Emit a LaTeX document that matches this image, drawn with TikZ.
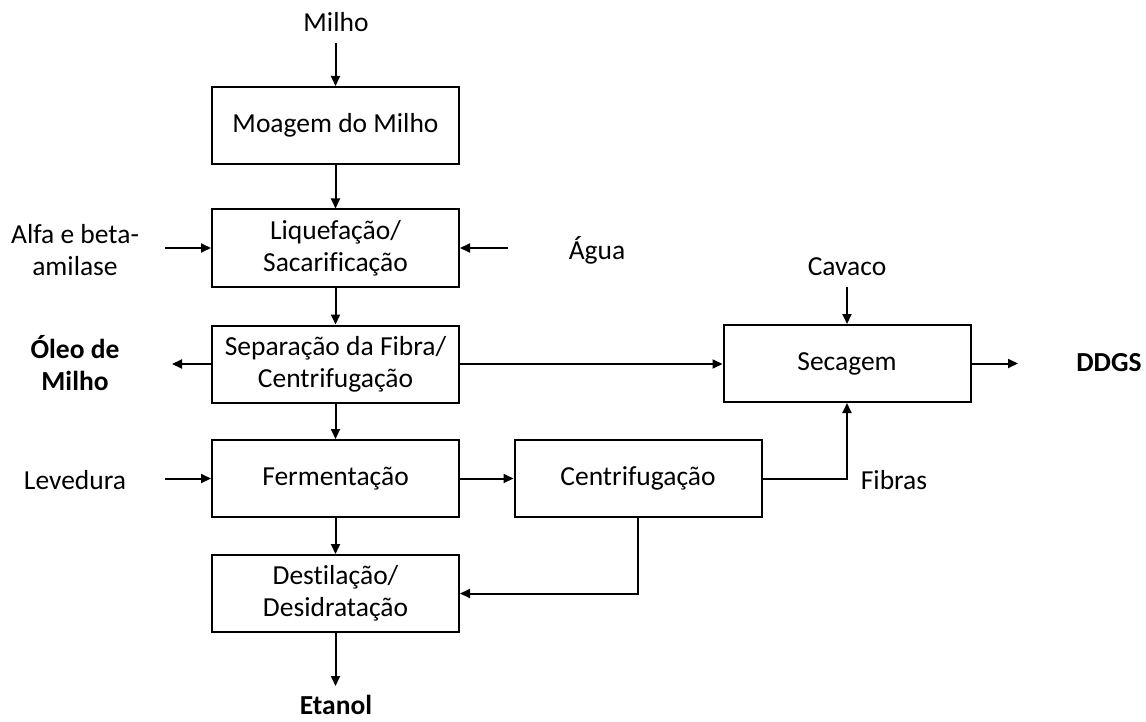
\documentclass[tikz,border=0pt]{standalone}
\usepackage{fontspec}
\setmainfont[Ligatures={NoCommon}]{Carlito}
\usetikzlibrary{arrows.meta}
\newcommand{\fs}{\fontsize{27.5}{32}\selectfont}
\begin{document}
\begin{tikzpicture}[x=1pt,y=-1pt,
  box/.style={draw, line width=2pt, minimum width=247pt, minimum height=77pt, inner sep=0pt, align=center, font=\fs},
  lbl/.style={align=center, inner sep=0pt, font=\fs},
  blbl/.style={align=center, inner sep=0pt, font=\fs\bfseries},
  arr/.style={line width=2pt, -{Triangle[length=10pt,width=9pt]}},
  ln/.style={line width=2pt}]
\useasboundingbox (0,0) rectangle (1146,722);
% boxes
\node[box] (moag) at (335.5,125.5) {Moagem do Milho};
\node[box] (liq) at (335.5,248) {Liquefação/\\Sacarificação};
\node[box] (sep) at (335.5,364) {Separação da Fibra/\\Centrifugação};
\node[box] (ferm) at (335.5,478.5) {Fermentação};
\node[box] (dest) at (335.5,593.5) {Destilação/\\Desidratação};
\node[box] (cent) at (638,478.5) {Centrifugação};
\node[box] (sec) at (847,363.5) {Secagem};
% labels
\node[lbl] (milho) at (336,22) {Milho};
\node[lbl] (alfa) at (75,250) {Alfa e beta-\\amilase};
\node[lbl] (agua) at (597,250) {Água};
\node[lbl] (cavaco) at (847,267) {Cavaco};
\node[blbl] (oleo) at (75,363) {Óleo de\\Milho};
\node[blbl] (ddgs) at (1109,363) {DDGS};
\node[lbl] (lev) at (75,480) {Levedura};
\node[lbl] (fibras) at (894,480) {Fibras};
\node[blbl] (etanol) at (336,705) {Etanol};
% free ends
\coordinate (cmilho) at (335.5,43);
\coordinate (calfa) at (165,248);
\coordinate (cagua) at (508,248);
\coordinate (coleo) at (172,364);
\coordinate (ccav) at (847,287);
\coordinate (cddgs) at (1018,363.5);
\coordinate (clev) at (165,478.5);
\coordinate (cetanol) at (335.5,686);
% connectors
\draw[arr] (cmilho) -- (moag.north);
\draw[arr] (moag) -- (liq);
\draw[arr] (calfa) -- (liq.west);
\draw[arr] (cagua) -- (liq.east);
\draw[arr] (liq) -- (sep);
\draw[arr] (sep.west) -- (coleo);
\draw[arr] (sep.east) -- (sep.east -| sec.west);
\draw[arr] (ccav) -- (sec.north);
\draw[arr] (sec.east) -- (cddgs);
\draw[arr] (sep) -- (ferm);
\draw[arr] (clev) -- (ferm.west);
\draw[arr] (ferm.east) -- (cent.west);
\draw[arr] (cent.east) -| (sec.south);
\draw[arr] (ferm) -- (dest);
\draw[arr] (cent.south) |- (dest.east);
\draw[arr] (dest.south) -- (cetanol);
\end{tikzpicture}
\end{document}
